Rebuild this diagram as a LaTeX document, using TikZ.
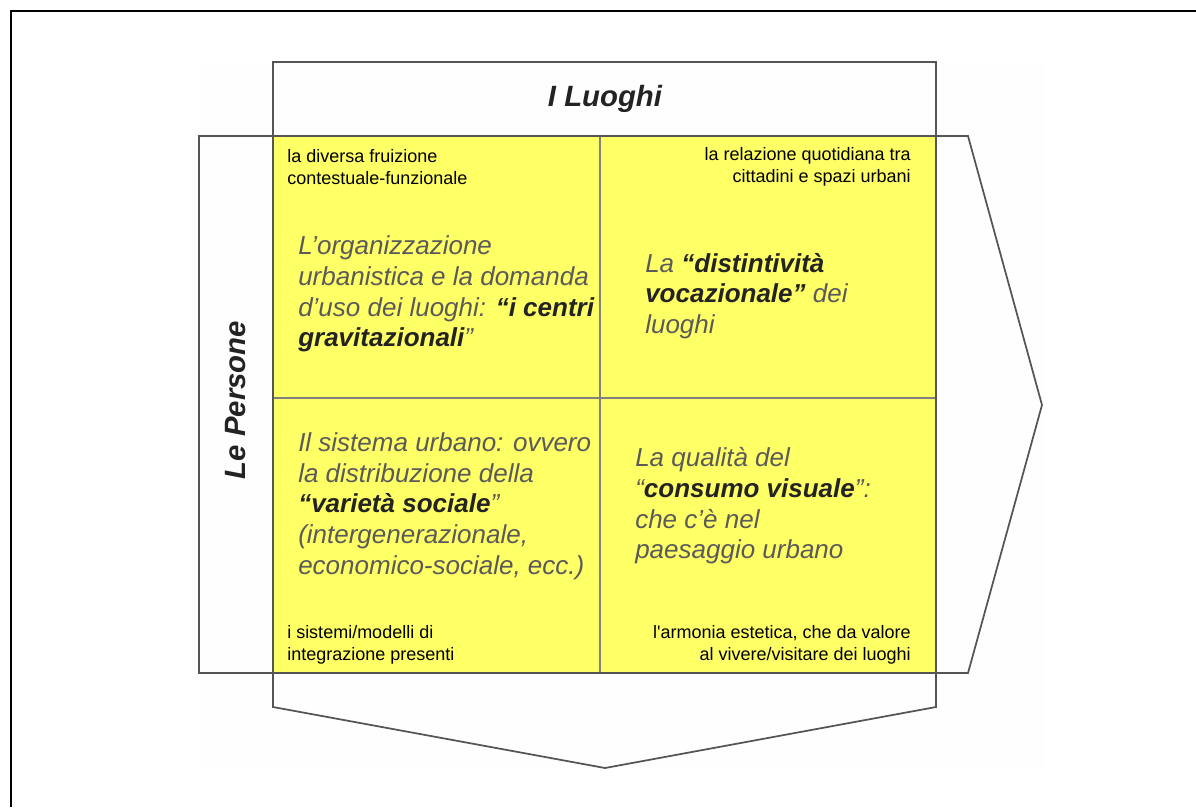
\documentclass[tikz,border=0pt]{standalone}
\usepackage{fontspec}
\setmainfont{Liberation Sans}
\definecolor{cellyellow}{RGB}{255,255,102}
\definecolor{edgegray}{RGB}{85,85,85}
\definecolor{textgray}{RGB}{90,90,90}
\definecolor{boldink}{RGB}{35,35,35}
\definecolor{faintbg}{RGB}{254,254,254}
\newcommand{\hi}[1]{\textbf{\color{boldink}#1}}
\begin{document}
\begin{tikzpicture}[x=0.75pt, y=-0.75pt,
    bigtext/.style={inner sep=0pt, align=left, text=textgray,
        font=\fontsize{19.5}{23}\selectfont\itshape},
    smalltext/.style={inner sep=0pt, text=black,
        font=\fontsize{13.5}{16.5}\selectfont},
    title/.style={inner sep=0pt, text=boldink,
        font=\fontsize{22}{26}\selectfont\bfseries\itshape}]
    \useasboundingbox (0,0) rectangle (1196,807);

    % frame and faint background
    \fill[faintbg] (198,61) rectangle (1044,770);
    \draw[line width=2pt] (11,807) -- (11,11) -- (1196,11);

    % yellow matrix
    \fill[cellyellow] (273,136) rectangle (936,673);
    \draw[gray, line width=0.8pt] (600,136) -- (600,673);
    \draw[gray, line width=0.8pt] (273,398) -- (936,398);

    % the two arrows
    \draw[edgegray, line width=1.3pt] (199,136) -- (968,136) -- (1042,405) -- (968,673) -- (199,673) -- cycle;
    \draw[edgegray, line width=1.3pt] (273,62) -- (936,62) -- (936,707) -- (605,768) -- (273,707) -- cycle;
    \draw[edgegray, line width=1.3pt] (273,136) -- (936,136);

    % headings
    \node[title] (luoghi) at (605,99) {I Luoghi};
    \node[title, rotate=90] (persone) at (236,400) {Le Persone};

    % small captions
    \node[smalltext, anchor=west, align=left] (capTL) at (287,167) {la diversa fruizione\\contestuale-funzionale};
    \node[smalltext, anchor=east, align=right] (capTR) at (911,167) {la relazione quotidiana tra\\cittadini e spazi urbani};
    \node[smalltext, anchor=west, align=left] (capBL) at (287,645) {i sistemi/modelli di\\integrazione presenti};
    \node[smalltext, anchor=east, align=right] (capBR) at (911,645) {l\textquotesingle armonia estetica, che da valore\\al vivere/visitare dei luoghi};

    % cell texts
    \node[bigtext, anchor=west] (cellTL) at (298,294) {L’organizzazione\\urbanistica e la domanda\\d’uso dei luoghi: \hi{“i centri}\\\hi{gravitazionali}”};
    \node[bigtext, anchor=west] (cellTR) at (645,296) {La \hi{“distintività}\\\hi{vocazionale”} dei\\luoghi};
    \node[bigtext, anchor=west] (cellBL) at (298,506) {Il sistema urbano: ovvero\\la distribuzione della\\\hi{“varietà sociale}”\\(intergenerazionale,\\economico-sociale, ecc.)};
    \node[bigtext, anchor=west] (cellBR) at (635,506) {La qualità del\\“\hi{consumo visuale}”:\\che c’è nel\\paesaggio urbano};
\end{tikzpicture}
\end{document}
